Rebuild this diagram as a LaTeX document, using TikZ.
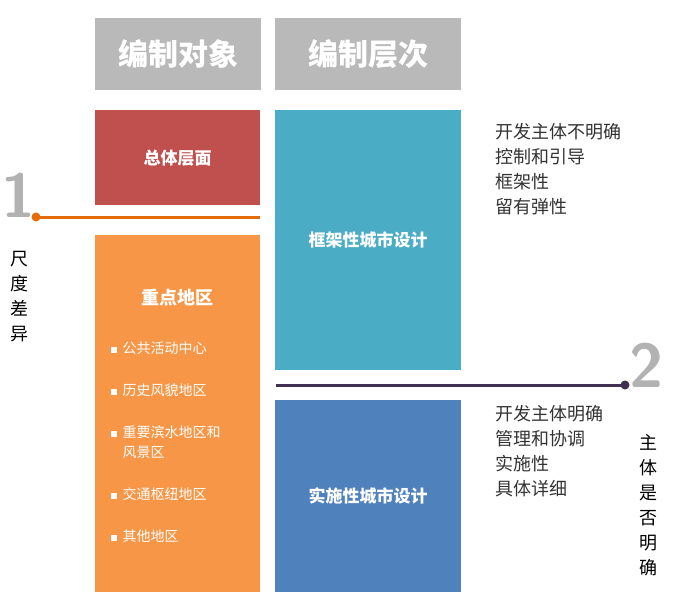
\documentclass[tikz,border=0pt]{standalone}
\usepackage{fontspec}
\newfontfamily\cjk{Noto Sans CJK SC}
\definecolor{cred}{RGB}{192,80,77}
\definecolor{corg}{RGB}{247,150,70}
\definecolor{cteal}{RGB}{75,172,198}
\definecolor{cblue}{RGB}{79,129,189}
\definecolor{lorg}{RGB}{228,108,10}
\definecolor{lpur}{RGB}{64,49,82}
\begin{document}
\begin{tikzpicture}[x=1pt,y=-1pt,
 box/.style={draw=none,minimum width=165pt,anchor=north west,inner sep=0pt,text=white,font=\cjk\bfseries\fontsize{17}{20}\selectfont},
 head/.style={fill=gray!55,minimum width=166pt,minimum height=72pt,anchor=north west,inner sep=0pt,text=white,font=\cjk\bfseries\fontsize{30}{34}\selectfont},
 lst/.style={anchor=north west,align=left,font=\cjk\fontsize{18}{25}\selectfont,text=black!80},
 num/.style={font=\sffamily\bfseries\fontsize{62}{62}\selectfont,text=gray!60},
 vert/.style={align=center,font=\cjk\fontsize{18}{25}\selectfont}]
\useasboundingbox (0,0) rectangle (674,602);
\node[head] (h1) at (95,18) {编制对象};
\node[head,minimum width=186pt] (h2) at (275,18) {编制层次};
\node[box,fill=cred,minimum height=95pt] (zt) at (95,110) {总体层面};
\node[box,fill=corg,minimum height=357pt] (zd) at (95,235) {};
\node[box,fill=cteal,minimum width=186pt,minimum height=260pt] (kj) at (275,110) {框架性城市设计};
\node[box,fill=cblue,minimum width=186pt,minimum height=192pt] (ss) at (275,400) {实施性城市设计};
\node[text=white,font=\cjk\bfseries\fontsize{18}{20}\selectfont] (zdt) at (177,298) {重点地区};
\begin{scope}[every node/.style={anchor=west,text=white,font=\cjk\fontsize{14}{20}\selectfont,align=left}]
\node (b1) at (107,348) {\rule{6pt}{6pt}\hspace{6pt}公共活动中心};
\node (b2) at (107,390) {\rule{6pt}{6pt}\hspace{6pt}历史风貌地区};
\node (b3) at (107,442) {\rule{6pt}{6pt}\hspace{6pt}重要滨水地区和\\\hspace{12pt}风景区};
\node (b4) at (107,494) {\rule{6pt}{6pt}\hspace{6pt}交通枢纽地区};
\node (b5) at (107,536) {\rule{6pt}{6pt}\hspace{6pt}其他地区};
\end{scope}
\coordinate (l1a) at (36,217); \coordinate (l1b) at (260,217);
\draw[line width=3pt,lorg] (l1a) -- (l1b);
\fill[lorg] (l1a) circle (4.5pt);
\node[num] (n1) at (19,195) {1};
\node[vert] (v1) at (19,297) {尺\\度\\差\\异};
\coordinate (l2a) at (276,385); \coordinate (l2b) at (625,385);
\draw[line width=3pt,lpur] (l2a) -- (l2b);
\fill[lpur] (l2b) circle (4.5pt);
\node[num] (n2) at (647,365) {2};
\node[vert] (v2) at (648,505) {主\\体\\是\\否\\明\\确};
\node[lst] (t1) at (492,120) {开发主体不明确\\控制和引导\\框架性\\留有弹性};
\node[lst] (t2) at (492,402) {开发主体明确\\管理和协调\\实施性\\具体详细};
\end{tikzpicture}
\end{document}
